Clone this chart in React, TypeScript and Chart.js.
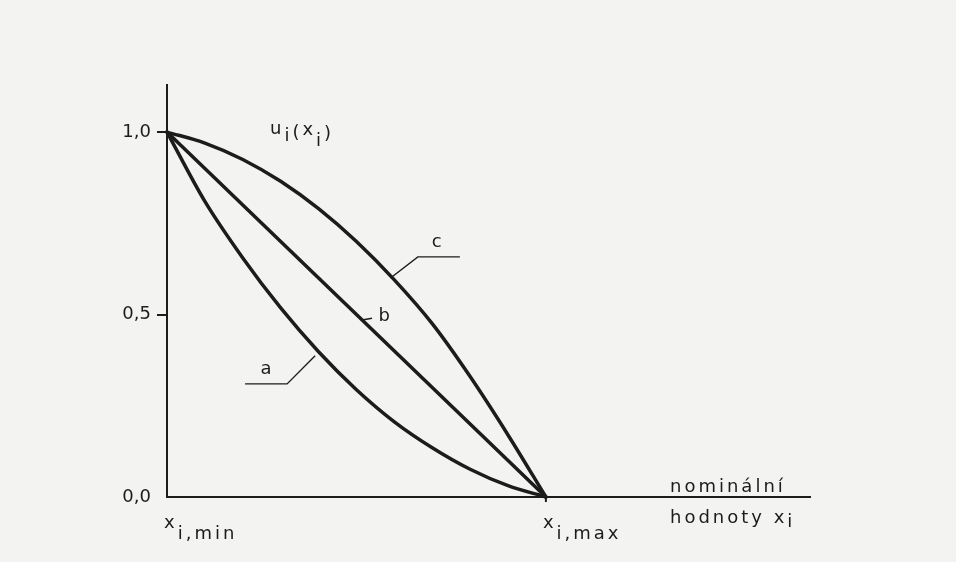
import { useEffect, useRef } from "react";
import { Chart, registerables } from "chart.js";

Chart.register(...registerables);

// ---- data ----
const X_VALUES = [0, 0.1, 0.2, 0.3, 0.4, 0.5, 0.6, 0.7, 0.8, 0.9, 1.0];
const CURVE_A = [1.0, 0.81, 0.655, 0.518, 0.398, 0.294, 0.206, 0.135, 0.076, 0.031, 0.0];
const CURVE_B = [1.0, 0.9, 0.8, 0.7, 0.6, 0.5, 0.4, 0.3, 0.2, 0.1, 0.0];
const CURVE_C = [1.0, 0.97, 0.925, 0.865, 0.79, 0.7, 0.595, 0.475, 0.33, 0.17, 0.0];

const Y_TICKS = [0, 0.5, 1.0];
const Y_TICK_LABELS = ["0,0", "0,5", "1,0"];
const X_TICKS = [0, 1];
const X_TICK_MAIN = ["x", "x"];
const X_TICK_SUB = ["i,min", "i,max"];

const X_MAX = 1.697;
const Y_MAX = 1.129;

// curve labels with leader lines (data units)
const LABEL_NAMES = ["a", "b", "c"];
const LABEL_POS: [number, number][] = [
  [0.261, 0.351],
  [0.573, 0.496],
  [0.712, 0.698],
];
const LEADERS: [number, number][][] = [
  [
    [0.391, 0.387],
    [0.317, 0.31],
    [0.206, 0.31],
  ],
  [
    [0.515, 0.485],
    [0.541, 0.49],
  ],
  [
    [0.59, 0.6],
    [0.662, 0.658],
    [0.773, 0.658],
  ],
];

const INK = "#1c1c1c";
const BG = "#f3f3f1";
const FONT = '18px "DejaVu Sans"';

function runs(ctx: CanvasRenderingContext2D, x: number, y: number, parts: [string, number][]) {
  let cx = x;
  for (const [t, dy] of parts) {
    ctx.fillText(t, cx, y + dy);
    cx += ctx.measureText(t).width;
  }
}

const decorPlugin = {
  id: "decor",
  beforeDraw(chart: any) {
    const { ctx, width, height } = chart;
    ctx.save();
    ctx.fillStyle = BG;
    ctx.fillRect(0, 0, width, height);
    ctx.restore();
  },
  afterDraw(chart: any) {
    const { ctx, chartArea } = chart;
    const xs = chart.scales.x;
    const ys = chart.scales.y;
    ctx.save();
    ctx.fillStyle = INK;
    ctx.strokeStyle = INK;
    ctx.font = FONT;
    ctx.textAlign = "left";
    ctx.textBaseline = "alphabetic";
    try {
      (ctx as any).letterSpacing = "3px";
    } catch (e) {}

    // x tick marks and labels
    X_TICKS.forEach((v, i) => {
      const px = xs.getPixelForValue(v);
      if (v !== 0) {
        ctx.lineWidth = 2;
        ctx.beginPath();
        ctx.moveTo(px, chartArea.bottom);
        ctx.lineTo(px, chartArea.bottom + 5);
        ctx.stroke();
      }
      runs(ctx, px - 3, chartArea.bottom + 31, [
        [X_TICK_MAIN[i], 0],
        [X_TICK_SUB[i], 11],
      ]);
    });

    // x axis title
    const tx = chartArea.right - 140;
    ctx.fillText("nominální", tx, chartArea.bottom - 5);
    runs(ctx, tx, chartArea.bottom + 26, [
      ["hodnoty x", 0],
      ["i", 4],
    ]);

    // y axis title u_i(x_i)
    runs(ctx, chartArea.left + 103, chartArea.top + 49, [
      ["u", 0],
      ["i", 7],
      ["(", 4],
      ["x", 1],
      ["i", 12],
      [")", 5],
    ]);

    // leader lines
    ctx.lineWidth = 1.4;
    LEADERS.forEach((pts) => {
      ctx.beginPath();
      pts.forEach(([vx, vy], k) => {
        const px = xs.getPixelForValue(vx);
        const py = ys.getPixelForValue(vy);
        if (k === 0) ctx.moveTo(px, py);
        else ctx.lineTo(px, py);
      });
      ctx.stroke();
    });

    // curve labels
    ctx.textAlign = "center";
    ctx.textBaseline = "middle";
    (ctx as any).letterSpacing = "0px";
    LABEL_NAMES.forEach((n, i) => {
      ctx.fillText(n, xs.getPixelForValue(LABEL_POS[i][0]), ys.getPixelForValue(LABEL_POS[i][1]));
    });
    ctx.restore();
  },
};

function series(ys: number[]) {
  return X_VALUES.map((x, i) => ({ x, y: ys[i] }));
}

export default function App() {
  const ref = useRef<HTMLCanvasElement>(null);
  useEffect(() => {
    document.body.style.margin = "0";
    document.body.style.background = BG;
    const canvas = ref.current!;
    const common = {
      borderColor: INK,
      borderWidth: 3.5,
      pointRadius: 0,
      cubicInterpolationMode: "monotone" as const,
      borderCapStyle: "round" as const,
      borderJoinStyle: "round" as const,
      clip: false as any,
      fill: false,
    };
    const chart = new Chart(canvas, {
      type: "line",
      data: {
        datasets: [
          { label: "a", data: series(CURVE_A), ...common },
          { label: "b", data: series(CURVE_B), ...common, cubicInterpolationMode: "default", tension: 0 },
          { label: "c", data: series(CURVE_C), ...common },
        ],
      },
      options: {
        responsive: false,
        animation: false,
        devicePixelRatio: 1,
        layout: { padding: { left: 107, top: 85, right: 146, bottom: 65 } },
        plugins: { legend: { display: false }, tooltip: { enabled: false } },
        scales: {
          x: {
            type: "linear",
            min: 0,
            max: X_MAX,
            ticks: { display: false },
            grid: { display: false, drawTicks: false },
            border: { display: true, color: INK, width: 2 },
            afterFit: (s: any) => {
              s.height = 0;
            },
          },
          y: {
            type: "linear",
            min: 0,
            max: Y_MAX,
            afterBuildTicks: (s: any) => {
              s.ticks = Y_TICKS.map((v) => ({ value: v }));
            },
            ticks: {
              callback: (v: any) => Y_TICK_LABELS[Y_TICKS.indexOf(Number(v))] ?? "",
              font: { family: "DejaVu Sans", size: 18 },
              color: INK,
              padding: 6,
            },
            grid: {
              drawOnChartArea: false,
              drawTicks: true,
              tickLength: 10,
              lineWidth: 2,
              color: (c: any) => (c.tick && c.tick.value === 0 ? "rgba(0,0,0,0)" : INK),
            },
            border: { display: true, color: INK, width: 2 },
            afterFit: (s: any) => {
              s.width = 60;
            },
          },
        },
      },
      plugins: [decorPlugin],
    });
    return () => chart.destroy();
  }, []);
  return (
    <canvas
      ref={ref}
      width={956}
      height={562}
      style={{ display: "block", width: 956, height: 562 }}
    />
  );
}
